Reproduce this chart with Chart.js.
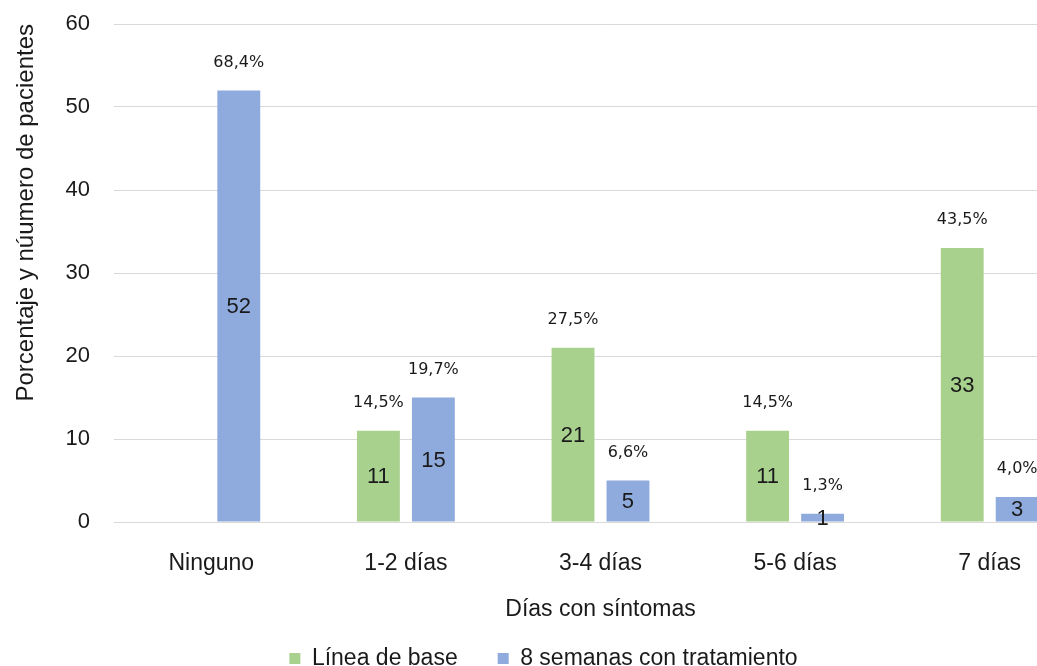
<!DOCTYPE html>
<html>
<head>
<meta charset="utf-8">
<script src="https://cdn.jsdelivr.net/npm/chart.js@4.4.0/dist/chart.umd.min.js"></script>
<style>
  html, body { margin: 0; padding: 0; background: #fff; overflow: hidden; }
  #wrap { width: 1090px; height: 680px; }
</style>
</head>
<body>
<div id="wrap"><canvas id="chart" width="1090" height="680"></canvas></div>
<script>
// datos del grafico
const categorias = ['Ninguno', '1-2 días', '3-4 días', '5-6 días', '7 días'];
const lineaBase = [null, 11, 21, 11, 33];
const semanas8 = [52, 15, 5, 1, 3];
const pctLineaBase = [null, '14,5%', '27,5%', '14,5%', '43,5%'];
const pctSemanas8 = ['68,4%', '19,7%', '6,6%', '1,3%', '4,0%'];
const yTicks = [0, 10, 20, 30, 40, 50, 60];

const VERDE = '#a9d18e';
const AZUL = '#8faadc';
const TEXTO = '#1a1a1a';
const ARIAL = '"Liberation Sans", Arial, sans-serif';

// etiquetas: numero dentro de la barra y porcentaje encima
const etiquetas = {
    id: 'etiquetas',
    afterDatasetsDraw(chart) {
        const ctx = chart.ctx;
        const pcts = [pctLineaBase, pctSemanas8];
        ctx.save();
        ctx.textAlign = 'center';
        ctx.textBaseline = 'middle';
        ctx.fillStyle = TEXTO;
        chart.data.datasets.forEach((ds, di) => {
            const meta = chart.getDatasetMeta(di);
            meta.data.forEach((bar, i) => {
                const v = ds.data[i];
                if (v === null || v === undefined) return;
                ctx.font = '22px ' + ARIAL;
                ctx.fillText(String(v), bar.x, (bar.y + bar.base) / 2 + 1);
                ctx.font = '16px "DejaVu Sans", Verdana, sans-serif';
                ctx.fillText(pcts[di][i], bar.x, bar.y - 28);
            });
        });
        ctx.restore();
    }
};

new Chart(document.getElementById('chart').getContext('2d'), {
    type: 'bar',
    data: {
        labels: categorias,
        datasets: [
            { label: 'Línea de base', data: lineaBase, backgroundColor: VERDE },
            { label: '8 semanas con tratamiento', data: semanas8, backgroundColor: AZUL }
        ]
    },
    options: {
        responsive: false,
        animation: false,
        categoryPercentage: 0.565,
        barPercentage: 0.78,
        layout: { padding: { top: 24, right: 3, left: 0, bottom: 0 } },
        plugins: {
            tooltip: { enabled: false },
            legend: {
                position: 'bottom',
                labels: {
                    boxWidth: 11, boxHeight: 11, padding: 40,
                    color: TEXTO,
                    font: { family: ARIAL, size: 23 }
                }
            }
        },
        scales: {
            x: {
                grid: { display: false, drawTicks: false },
                border: { display: true, color: '#d9d9d9', width: 1 },
                ticks: {
                    padding: 28, color: TEXTO, maxRotation: 0,
                    font: { family: ARIAL, size: 23 }
                },
                title: {
                    display: true, text: 'Días con síntomas', color: TEXTO,
                    padding: { top: 0, bottom: -16 },
                    font: { family: ARIAL, size: 23 }
                },
                afterFit(scale) { scale.height = 85; }
            },
            y: {
                min: 0, max: 60,
                afterBuildTicks(scale) { scale.ticks = yTicks.map(v => ({ value: v })); },
                // marcas invisibles para separar los numeros del eje
                grid: { color: '#d9d9d9', lineWidth: 1, drawTicks: true, tickLength: 24, tickColor: 'rgba(0,0,0,0)' },
                border: { display: false },
                ticks: {
                    padding: 0, color: TEXTO,
                    font: { family: ARIAL, size: 22 }
                },
                title: {
                    display: true, text: 'Porcentaje y núumero de pacientes', color: TEXTO,
                    align: 'end',
                    padding: { top: 12, bottom: 0 },
                    font: { family: ARIAL, size: 24 }
                },
                afterFit(scale) { scale.width = 114; }
            }
        }
    },
    plugins: [etiquetas]
});
</script>
</body>
</html>
